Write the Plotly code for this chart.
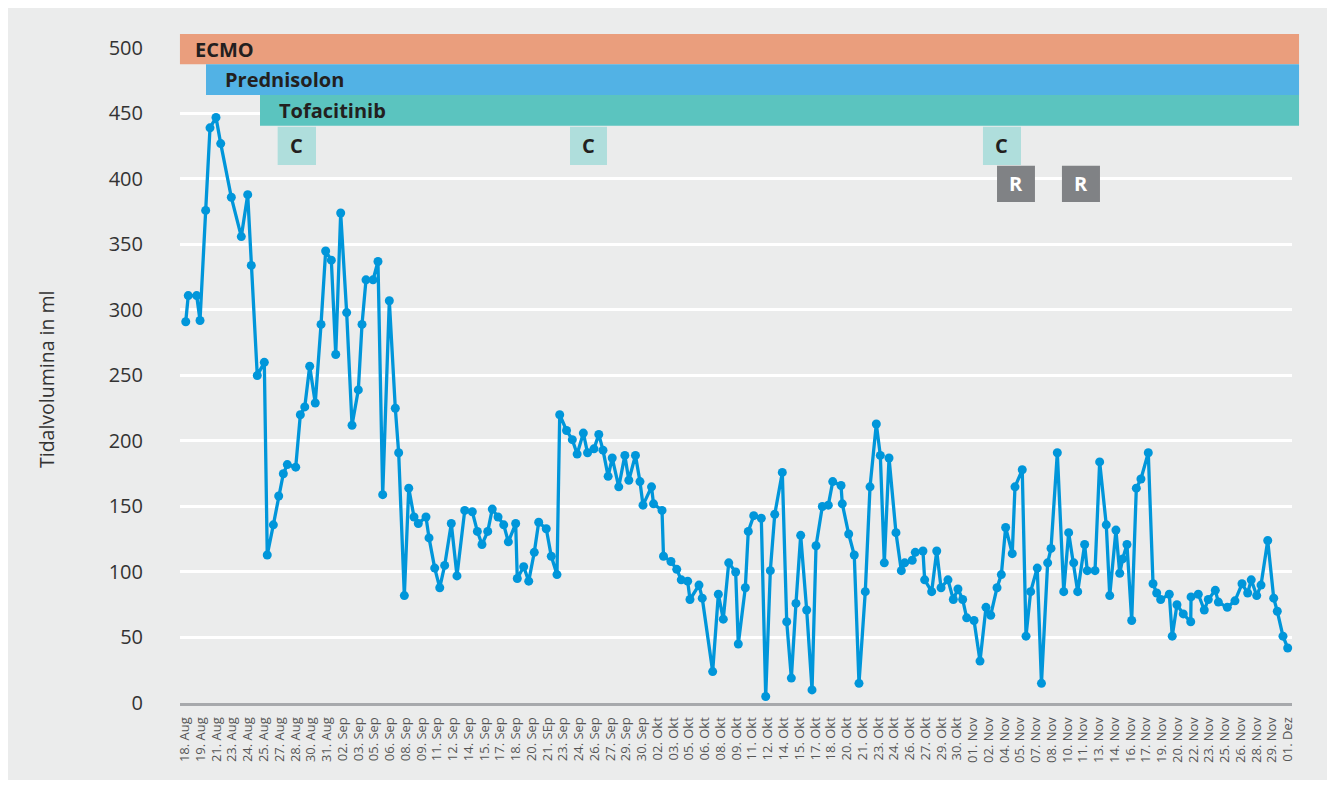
import plotly.graph_objects as go

# ---------------- data ----------------
# x: days since 18. Aug (time of measurement), y: tidal volume in ml
days = [0.07, 0.31, 1.11, 1.43, 1.97, 2.38, 2.95, 3.40, 4.41, 5.36, 5.97, 6.31, 6.88, 7.55, 7.83,
        8.41, 8.92, 9.36, 9.74, 10.54, 10.98, 11.40, 11.87, 12.40, 12.95, 13.39, 13.93, 14.35,
        14.82, 15.39, 15.90, 16.50, 16.85, 17.23, 17.90, 18.37, 18.82, 19.45, 20.02, 20.34,
        20.88, 21.30, 21.80, 22.21, 22.94, 23.23, 23.77, 24.25, 24.72, 25.35, 25.89, 26.63,
        27.35, 27.83, 28.27, 28.82, 29.25, 29.80, 30.34, 30.78, 31.48, 31.63, 32.24, 32.72,
        33.25, 33.67, 34.39, 34.87, 35.41, 35.67, 36.32, 36.87, 37.33, 37.92, 38.32, 38.93,
        39.39, 39.79, 40.28, 40.67, 41.29, 41.87, 42.25, 42.88, 43.31, 43.60, 44.41, 44.60,
        45.41, 45.55, 46.26, 46.81, 47.24, 47.85, 48.07, 48.93, 49.24, 50.23, 50.77, 51.24,
        51.76, 52.42, 52.67, 53.34, 53.62, 54.14, 54.86, 55.28, 55.72, 56.14, 56.86, 57.28,
        57.72, 58.16, 58.61, 59.18, 59.69, 60.07, 60.67, 61.24, 61.66, 62.45, 62.57, 63.18,
        63.71, 64.16, 64.76, 65.21, 65.81, 66.19, 66.57, 67.02, 67.68, 68.19, 68.51, 69.23,
        69.52, 70.25, 70.41, 71.08, 71.56, 71.97, 72.63, 73.14, 73.58, 74.03, 74.41, 75.11,
        75.68, 76.25, 76.70, 77.30, 77.71, 78.12, 78.75, 79.01, 79.70, 80.06, 80.50, 81.13,
        81.53, 82.12, 82.44, 83.04, 83.65, 84.12, 84.60, 84.98, 85.64, 85.89, 86.63, 87.07,
        87.70, 88.03, 88.62, 88.98, 89.26, 89.67, 90.12, 90.56, 91.00, 91.70, 92.15, 92.50,
        92.88, 93.70, 93.98, 94.43, 95.03, 95.74, 95.77, 96.46, 97.03, 97.41, 98.08, 98.37,
        99.22, 99.95, 100.62, 101.16, 101.50, 102.02, 102.43, 103.07, 103.64, 103.98, 104.52,
        104.97]

tidal = [291, 311, 311, 292, 376, 439, 447, 427, 386, 356, 388, 334, 250, 260, 113,
         136, 158, 175, 182, 180, 220, 226, 257, 229, 289, 345, 338, 266,
         374, 298, 212, 239, 289, 323, 323, 337, 159, 307, 225, 191,
         82, 164, 142, 137, 142, 126, 103, 88, 105, 137, 97, 147,
         146, 131, 121, 131, 148, 142, 136, 123, 137, 95, 104, 93,
         115, 138, 133, 112, 98, 220, 208, 201, 190, 206, 191, 194,
         205, 193, 173, 187, 165, 189, 170, 189, 169, 151, 165, 152,
         147, 112, 108, 102, 94, 93, 79, 90, 80, 24, 83, 64,
         107, 100, 45, 88, 131, 143, 141, 5, 101, 144, 176, 62,
         19, 76, 128, 71, 10, 120, 150, 151, 169, 166, 152, 129,
         113, 15, 85, 165, 213, 189, 107, 187, 130, 101, 107, 109,
         115, 116, 94, 85, 116, 88, 94, 79, 87, 79, 65, 63,
         32, 73, 67, 88, 98, 134, 114, 165, 178, 51, 85, 103,
         15, 107, 118, 191, 85, 130, 107, 85, 121, 101, 101, 184,
         136, 82, 132, 99, 110, 121, 63, 164, 171, 191, 91, 84,
         79, 83, 51, 75, 68, 62, 81, 83, 71, 79, 86, 77,
         73, 78, 91, 84, 94, 82, 90, 124, 80, 70, 51,
         42]

tick_labels = ["18. Aug", "19. Aug", "21. Aug", "23. Aug", "24. Aug", "25. Aug", "27. Aug",
               "28. Aug", "30. Aug", "31. Aug", "02. Sep", "03. Sep", "05. Sep", "06. Sep",
               "08. Sep", "09. Sep", "11. Sep", "12. Sep", "14. Sep", "15. Sep", "17. Sep",
               "18. Sep", "20. Sep", "21. SEp", "23. Sep", "24. Sep", "26. Sep", "27. Sep",
               "29. Sep", "30. Sep", "02. Okt", "03. Okt", "05. Okt", "06. Okt", "08. Okt",
               "09. Okt", "11. Okt", "12. Okt", "14. Okt", "15. Okt", "17. Okt", "18. Okt",
               "20. Okt", "21. Okt", "23. Okt", "24. Okt", "26. Okt", "27. Okt", "29. Okt",
               "30. Okt", "01. Nov", "02. Nov", "04. Nov", "05. Nov", "07. Nov", "08. Nov",
               "10. Nov", "11. Nov", "13. Nov", "14. Nov", "16. Nov", "17. Nov", "19. Nov",
               "20. Nov", "22. Nov", "23. Nov", "25. Nov", "26. Nov", "28. Nov", "29. Nov",
               "01. Dez"]
tick_step_days = 1.5

y_ticks = [0, 50, 100, 150, 200, 250, 300, 350, 400, 450, 500]

# therapy bars (start day, label), all running to the end of the observation
therapies = ["ECMO", "Prednisolon", "Tofacitinib"]
therapy_start = [-0.48, 2.0, 7.14]
therapy_end = 106.05
therapy_label_x = [0.73, 3.62, 8.76]
therapy_ylo = [487.6, 464.1, 440.7]
therapy_yhi = [510.7, 487.6, 464.1]
therapy_colors = ["#EA9E7D", "#52B2E5", "#5BC4BF"]

c_start = [8.82, 36.65, 75.96]
c_end = [12.47, 40.17, 79.58]
c_ylo, c_yhi = 410.7, 439.9
r_start = [77.30, 83.48]
r_end = [80.91, 87.10]
r_ylo, r_yhi = 382.4, 410.0

# ---------------- layout constants ----------------
# the page body adds an 8 px offset, so the figure is 8 px smaller and shifted
W, H = 1327, 777
ML, MR, MT, MB = 172, 43, 22, 82
XMIN, XMAX = -0.476, 105.38
YMIN, YMAX = 0, 513.7
BG = "#EBECEC"
FONT = "Open Sans"
PW = W - ML - MR
PH = H - MT - MB


def px_x(d):
    return (d - XMIN) / (XMAX - XMIN)


def px_y(v):
    return (v - YMIN) / (YMAX - YMIN)


fig = go.Figure()
fig.add_trace(go.Scatter(
    x=days, y=tidal, mode="lines+markers",
    line=dict(color="#0096DA", width=3.3),
    marker=dict(color="#0096DA", size=9),
    hoverinfo="x+y", showlegend=False, cliponaxis=False,
))

shapes = []
# grey panel
shapes.append(dict(type="rect", xref="paper", yref="paper",
                   x0=-ML / PW, x1=(1322 - ML) / PW,
                   y0=-(772 - (H - MB)) / PH, y1=(H - MB) / PH,
                   fillcolor=BG, line=dict(width=0), layer="below"))

annotations = []
for name, s, lx, lo, hi, col in zip(therapies, therapy_start, therapy_label_x,
                                    therapy_ylo, therapy_yhi, therapy_colors):
    shapes.append(dict(type="rect", xref="paper", yref="paper",
                       x0=px_x(s), x1=px_x(therapy_end), y0=px_y(lo), y1=px_y(hi),
                       fillcolor=col, line=dict(width=0), layer="above"))
    annotations.append(dict(x=lx, y=(lo + hi) / 2, xref="x", yref="y", text="<b>%s</b>" % name,
                            showarrow=False, xanchor="left", yanchor="middle",
                            font=dict(family=FONT, size=20, color="#231F20")))

for s, e in zip(c_start, c_end):
    shapes.append(dict(type="rect", xref="x", yref="y", x0=s, x1=e, y0=c_ylo, y1=c_yhi,
                       fillcolor="#AFDEDC", line=dict(width=0), layer="above"))
    annotations.append(dict(x=(s + e) / 2, y=(c_ylo + c_yhi) / 2, xref="x", yref="y",
                            text="<b>C</b>", showarrow=False, xanchor="center", yanchor="middle",
                            font=dict(family=FONT, size=20, color="#231F20")))
for s, e in zip(r_start, r_end):
    shapes.append(dict(type="rect", xref="x", yref="y", x0=s, x1=e, y0=r_ylo, y1=r_yhi,
                       fillcolor="#808285", line=dict(width=0), layer="above"))
    annotations.append(dict(x=(s + e) / 2, y=(r_ylo + r_yhi) / 2, xref="x", yref="y",
                            text="<b>R</b>", showarrow=False, xanchor="center", yanchor="middle",
                            font=dict(family=FONT, size=20, color="white")))

# y axis title
annotations.append(dict(x=(39 - ML) / PW, y=(H - MB - 372) / PH,
                        xref="paper", yref="paper", text="Tidalvolumina in ml",
                        textangle=-90, showarrow=False, xanchor="center", yanchor="middle",
                        font=dict(family=FONT, size=19.5, color="#333333")))

fig.update_layout(
    width=W, height=H,
    margin=dict(l=ML, r=MR, t=MT, b=MB, autoexpand=False),
    paper_bgcolor="white", plot_bgcolor=BG,
    shapes=shapes, annotations=annotations,
    showlegend=False,
    xaxis=dict(range=[XMIN, XMAX], tickmode="array",
               tickvals=[i * tick_step_days for i in range(len(tick_labels))],
               ticktext=tick_labels, tickangle=-90, showgrid=False, zeroline=False,
               showline=True, linecolor="#A7A9AC", linewidth=3, ticks="",
               ticklabelstandoff=6,
               tickfont=dict(family=FONT, size=13, color="#555555")),
    yaxis=dict(range=[YMIN, YMAX], tickmode="array", tickvals=y_ticks,
               ticktext=[str(v) for v in y_ticks], showgrid=True, gridcolor="white",
               gridwidth=2.6, zeroline=False, showline=False, ticks="",
               ticklabelstandoff=36,
               tickfont=dict(family=FONT, size=20, color="#333333")),
)

fig.write_html("out.html")
